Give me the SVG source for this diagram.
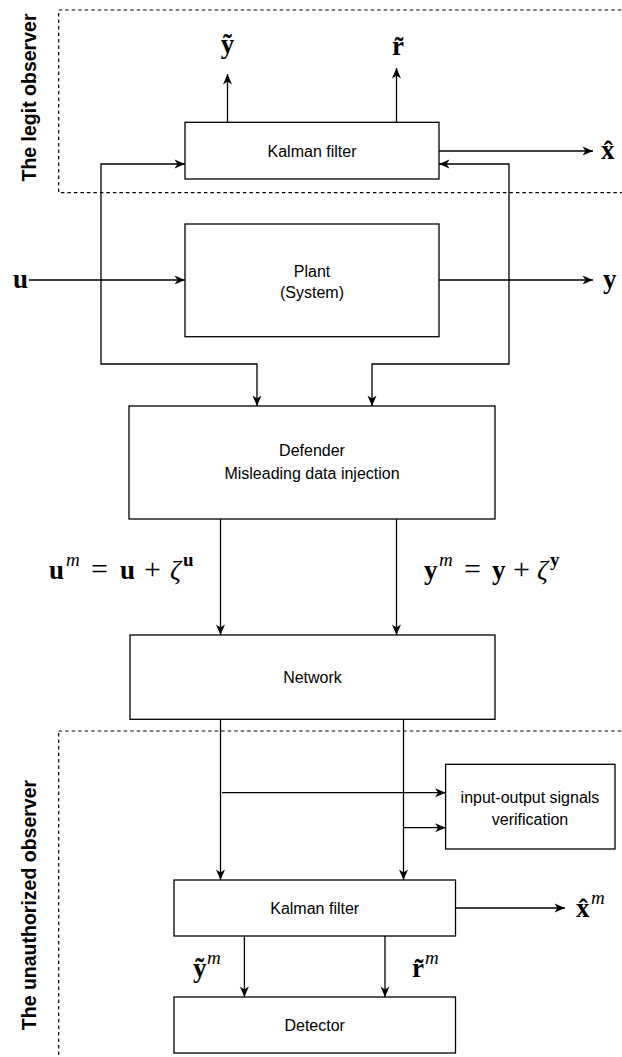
<svg xmlns="http://www.w3.org/2000/svg" width="622" height="1057" viewBox="0 0 622 1057">
<style>
.box{fill:#fff;stroke:#000;stroke-width:1.3}
.ln{fill:none;stroke:#000;stroke-width:1.3}
.dash{fill:none;stroke:#000;stroke-width:1.2;stroke-dasharray:3.5 3}
.lbl{font-family:"Liberation Sans",Arial,sans-serif;font-size:16px;fill:#000;text-anchor:middle}
.grp{font-family:"Liberation Sans",Arial,sans-serif;font-size:19.5px;font-weight:bold;fill:#000;text-anchor:middle}
.m{font-family:"Liberation Serif","Times New Roman",serif;font-size:27px;fill:#000}
.b{font-weight:bold}
.i{font-style:italic}
.sup{font-size:19px}
.op{font-size:30px}
</style>
<defs>
<marker id="arr" markerUnits="userSpaceOnUse" markerWidth="11" markerHeight="10" refX="10.5" refY="4.5" orient="auto" overflow="visible">
<path d="M0,0 L10.5,4.5 L0,9 L3,4.5 Z" fill="#000"/>
</marker>
</defs>

<g id="legit-observer">
<rect class="dash" x="58.7" y="10" width="620" height="182.7"/>
<text class="grp" transform="translate(36,97.5) rotate(-90)">The legit observer</text>
</g>
<g id="unauthorized-observer">
<rect class="dash" x="58.7" y="731" width="620" height="400"/>
<text class="grp" transform="translate(36,905) rotate(-90)">The unauthorized observer</text>
</g>

<g id="connectors">
<path class="ln" d="M227.5,122 V74" marker-end="url(#arr)"/>
<path class="ln" d="M396.5,122 V68" marker-end="url(#arr)"/>
<path class="ln" d="M439,151 H593" marker-end="url(#arr)"/>
<path class="ln" d="M29,280 H185" marker-end="url(#arr)"/>
<path class="ln" d="M439,280 H593" marker-end="url(#arr)"/>
<path class="ln" d="M101,280 V164 H185" marker-end="url(#arr)"/>
<path class="ln" d="M101,280 V364 H257 V406" marker-end="url(#arr)"/>
<path class="ln" d="M509,280 V164 H439" marker-end="url(#arr)"/>
<path class="ln" d="M509,280 V364 H372 V406" marker-end="url(#arr)"/>
<path class="ln" d="M220.5,519 V635" marker-end="url(#arr)"/>
<path class="ln" d="M396.5,519 V635" marker-end="url(#arr)"/>
<path class="ln" d="M220.5,719 V880" marker-end="url(#arr)"/>
<path class="ln" d="M403.5,719 V880" marker-end="url(#arr)"/>
<path class="ln" d="M222,792.7 H445.6" marker-end="url(#arr)"/>
<path class="ln" d="M403.5,827.7 H445.6" marker-end="url(#arr)"/>
<path class="ln" d="M455.5,908 H565" marker-end="url(#arr)"/>
<path class="ln" d="M244.4,936 V997" marker-end="url(#arr)"/>
<path class="ln" d="M385,936 V997" marker-end="url(#arr)"/>
</g>

<g id="kalman-legit">
<rect class="box" x="185" y="122.3" width="254" height="56.7"/>
<text class="lbl" x="312" y="157">Kalman filter</text>
</g>
<g id="plant">
<rect class="box" x="185" y="224" width="254" height="112.7"/>
<text class="lbl" x="312" y="277">Plant</text>
<text class="lbl" x="312" y="298">(System)</text>
</g>
<g id="defender">
<rect class="box" x="129" y="406" width="366" height="113"/>
<text class="lbl" x="312" y="456">Defender</text>
<text class="lbl" x="312" y="479">Misleading data injection</text>
</g>
<g id="network">
<rect class="box" x="130" y="635" width="365" height="84.3"/>
<text class="lbl" x="312.5" y="683">Network</text>
</g>
<g id="io-verification">
<rect class="box" x="445.6" y="764.3" width="169.4" height="84.7"/>
<text class="lbl" x="530" y="803">input-output signals</text>
<text class="lbl" x="530" y="825">verification</text>
</g>
<g id="kalman-unauth">
<rect class="box" x="174" y="880" width="281.5" height="56"/>
<text class="lbl" x="314.7" y="914">Kalman filter</text>
</g>
<g id="detector">
<rect class="box" x="174" y="997" width="281.5" height="56"/>
<text class="lbl" x="314.7" y="1031">Detector</text>
</g>

<g id="labels">
<text class="m b" x="227.5" y="53" text-anchor="middle">ỹ</text>
<text class="m b" x="398" y="55" text-anchor="middle">r̃</text>
<text class="m b" x="601" y="159">x̂</text>
<text class="m b" x="28" y="288" text-anchor="end">u</text>
<text class="m b" x="603" y="288">y</text>
<text class="m" y="579"><tspan class="b" x="49">u</tspan><tspan class="i sup" x="66" y="566">m</tspan><tspan class="op" x="91" y="579">=</tspan><tspan class="b" x="120">u</tspan><tspan class="op" x="144">+</tspan><tspan class="i" x="170">ζ</tspan><tspan class="b sup" x="183" y="566">u</tspan></text>
<text class="m" y="579"><tspan class="b" x="424">y</tspan><tspan class="i sup" x="439" y="566">m</tspan><tspan class="op" x="464" y="579">=</tspan><tspan class="b" x="492">y</tspan><tspan class="op" x="513">+</tspan><tspan class="i" x="537">ζ</tspan><tspan class="b sup" x="550" y="566">y</tspan></text>
<text class="m" y="917"><tspan class="b" x="576">x̂</tspan><tspan class="i sup" x="591" y="904">m</tspan></text>
<text class="m" y="977"><tspan class="b" x="193">ỹ</tspan><tspan class="i sup" x="207" y="964">m</tspan></text>
<text class="m" y="977"><tspan class="b" x="412">r̃</tspan><tspan class="i sup" x="425" y="964">m</tspan></text>
</g>
</svg>
